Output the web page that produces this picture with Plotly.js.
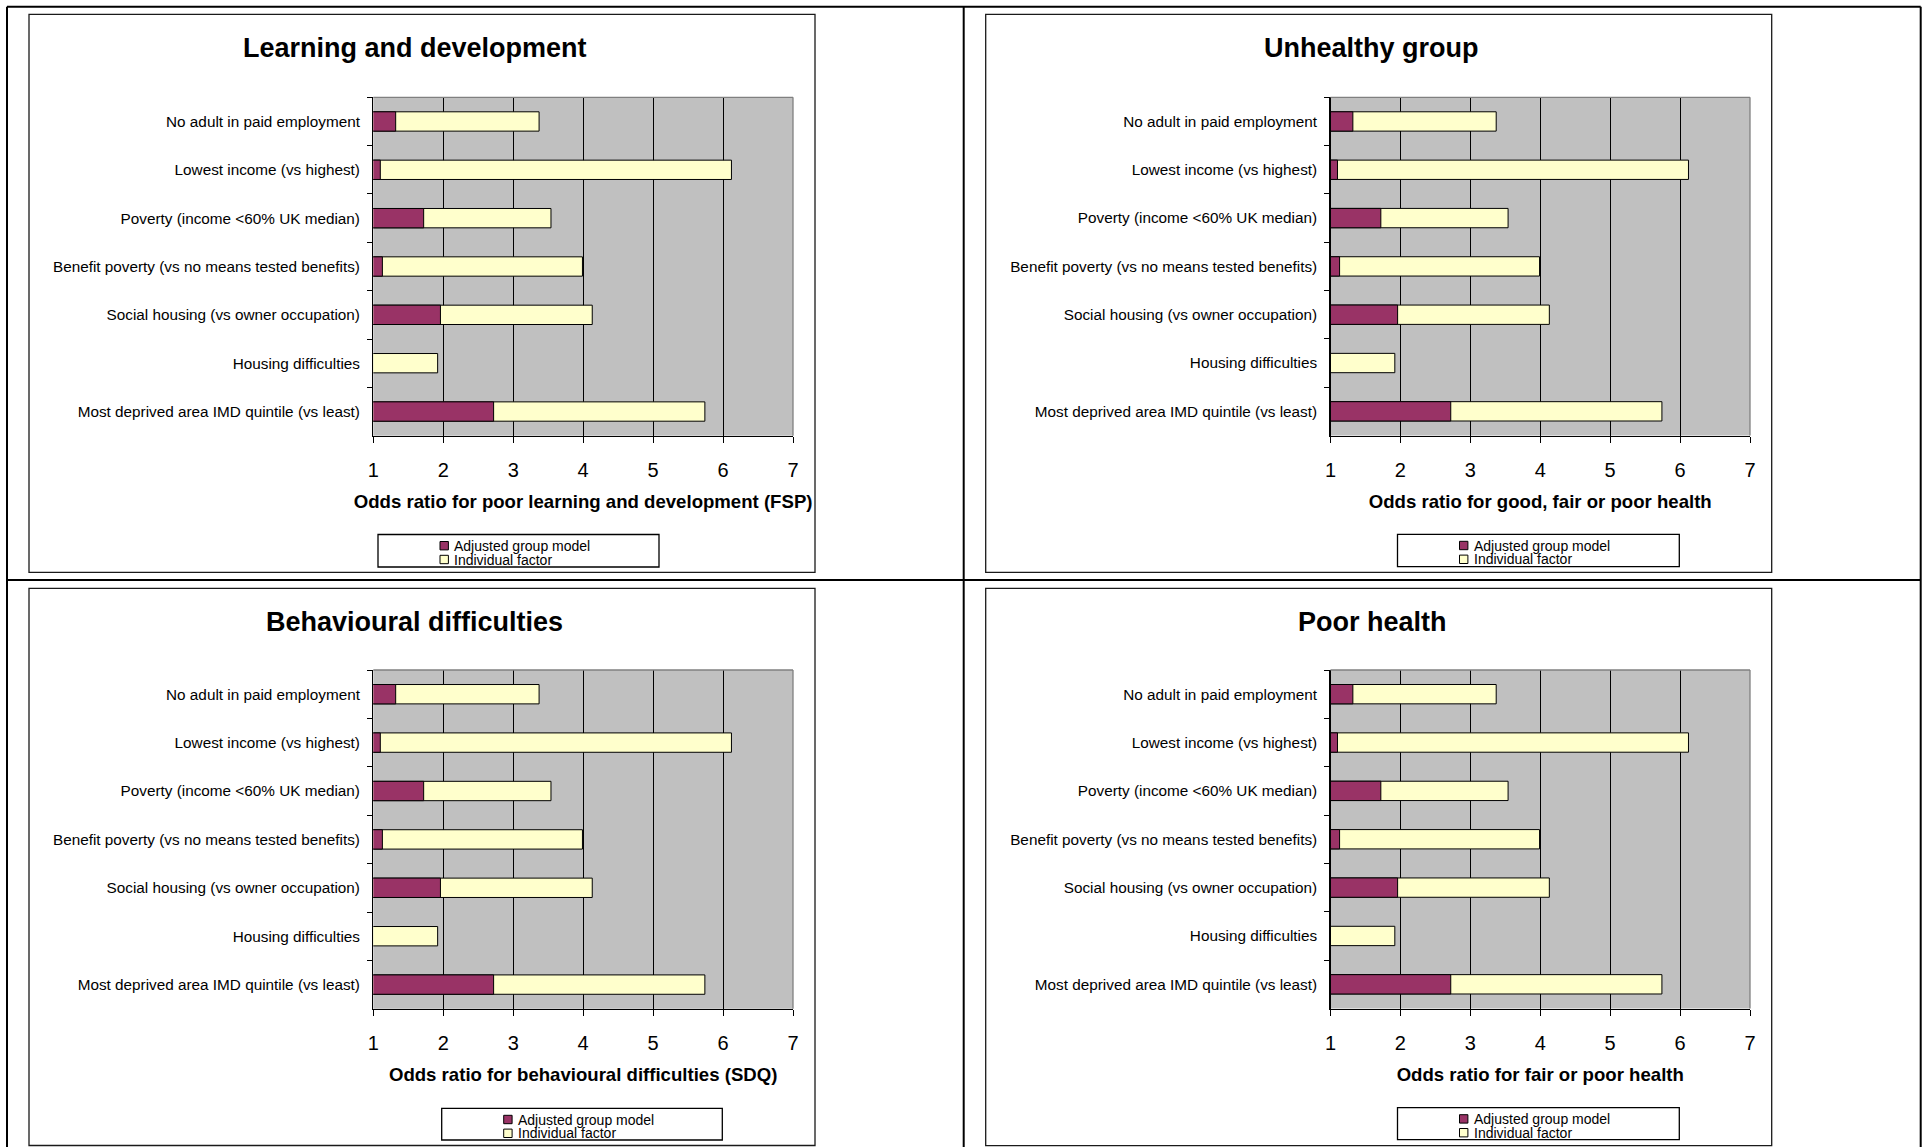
<!DOCTYPE html>
<html>
<head>
<meta charset="utf-8">
<script src="https://cdn.plot.ly/plotly-3.0.1.min.js"></script>
<style>
  html, body { margin: 0; padding: 0; background: #ffffff; }
  #chart { width: 1929px; height: 1147px; }
</style>
</head>
<body>
<div id="chart"></div>
<script>
// Risk factors, listed top to bottom
const factors = [
  'No adult in paid employment',
  'Lowest income (vs highest)',
  'Poverty (income &lt;60% UK median)',
  'Benefit poverty (vs no means tested benefits)',
  'Social housing (vs owner occupation)',
  'Housing difficulties',
  'Most deprived area IMD quintile (vs least)'
];

// Odds ratios for each factor
const adjustedGroupModel = [1.32, 1.10, 1.72, 1.13, 1.96, null, 2.72];
const individualFactor   = [3.37, 6.12, 3.54, 3.99, 4.13, 1.92, 5.74];

const seriesNames = ['Adjusted group model', 'Individual factor'];
const panelTitles = ['Learning and development', 'Unhealthy group', 'Behavioural difficulties', 'Poor health'];
const axisTitles = [
  'Odds ratio for poor learning and development (FSP)',
  'Odds ratio for good, fair or poor health',
  'Odds ratio for behavioural difficulties (SDQ)',
  'Odds ratio for fair or poor health'
];
const oddsTicks = [1, 2, 3, 4, 5, 6, 7];

// Colours
const ADJ_COLOR = '#993366';
const IND_COLOR = '#FFFFCC';
const PLOT_BG = '#C0C0C0';
const FONT = 'Liberation Sans, Arial, Helvetica, sans-serif';

// Page geometry in pixels
const W = 1929, H = 1147;
const px = v => v / W;
const py = v => 1 - v / H;

const panels = [
  { box: [29, 14.3, 815, 572.3],      plot: [373.3, 97.3, 793, 435.7],  titleX: 414.5, legend: [378, 534.5, 659, 567] },
  { box: [985.7, 14.3, 1771.7, 572.3], plot: [1330.5, 97.3, 1750, 435.5], titleX: 1371,  legend: [1397.5, 534.3, 1679.3, 566.7] },
  { box: [29, 588.3, 815, 1145.5],    plot: [373.3, 670, 793, 1008.8],  titleX: 414.5, legend: [441.7, 1108.3, 722.3, 1140] },
  { box: [985.7, 588.3, 1771.7, 1145.7], plot: [1330.5, 670, 1750, 1008.5], titleX: 1372, legend: [1397.5, 1107.7, 1679.3, 1139.7] }
];

const traces = [];
const layout = {
  width: W,
  height: H,
  margin: { l: 0, r: 0, t: 0, b: 0 },
  paper_bgcolor: '#ffffff',
  plot_bgcolor: PLOT_BG,
  barmode: 'overlay',
  bargap: 0.6,
  showlegend: false,
  font: { family: FONT, color: '#000000' },
  shapes: [],
  annotations: []
};

// Outer table rules
const outer = { type: 'line', xref: 'paper', yref: 'paper', line: { color: '#000000', width: 2 } };
layout.shapes.push(
  Object.assign({}, outer, { x0: px(7), x1: px(1920.7), y0: py(6.7), y1: py(6.7) }),
  Object.assign({}, outer, { x0: px(7), x1: px(7), y0: py(6.7), y1: py(1147) }),
  Object.assign({}, outer, { x0: px(1920.7), x1: px(1920.7), y0: py(6.7), y1: py(1147) }),
  Object.assign({}, outer, { x0: px(963.7), x1: px(963.7), y0: py(6.7), y1: py(1147) }),
  Object.assign({}, outer, { x0: px(7), x1: px(1920.7), y0: py(580), y1: py(580) })
);

panels.forEach((p, i) => {
  const s = i === 0 ? '' : String(i + 1);
  const xa = 'x' + s, ya = 'y' + s;

  traces.push({
    type: 'bar', orientation: 'h', name: seriesNames[1],
    y: factors, x: individualFactor, xaxis: xa, yaxis: ya,
    marker: { color: IND_COLOR, line: { color: '#000000', width: 1 } },
    hoverinfo: 'skip'
  });
  traces.push({
    type: 'bar', orientation: 'h', name: seriesNames[0],
    y: factors, x: adjustedGroupModel, xaxis: xa, yaxis: ya,
    marker: { color: ADJ_COLOR, line: { color: '#000000', width: 1 } },
    hoverinfo: 'skip'
  });

  layout['xaxis' + s] = {
    domain: [px(p.plot[0]), px(p.plot[2])],
    anchor: ya,
    range: [1, 7],
    tickmode: 'array',
    tickvals: oddsTicks,
    ticktext: oddsTicks.map(String),
    ticks: 'outside', ticklen: 6, tickwidth: 1, tickcolor: '#000000',
    showline: true, linecolor: '#000000', linewidth: 1.3,
    showgrid: true, gridcolor: '#000000', gridwidth: 1,
    zeroline: false,
    tickfont: { family: FONT, size: 20, color: '#000000' },
    ticklabelstandoff: 10,
    title: { text: axisTitles[i], font: { family: FONT, size: 18.6, weight: 700, color: '#000000' }, standoff: 15 },
    fixedrange: true
  };
  layout['yaxis' + s] = {
    domain: [py(p.plot[3]), py(p.plot[1])],
    anchor: xa,
    type: 'category',
    categoryorder: 'array',
    categoryarray: factors,
    autorange: 'reversed',
    tickson: 'boundaries',
    ticks: 'outside', ticklen: 5, tickwidth: 1, tickcolor: '#000000',
    showline: true, linecolor: '#000000', linewidth: 1.3,
    showgrid: false, zeroline: false,
    tickfont: { family: FONT, size: 15.3, color: '#000000' },
    ticklabelstandoff: 9,
    fixedrange: true
  };

  // Chart frame
  layout.shapes.push({
    type: 'rect', xref: 'paper', yref: 'paper', layer: 'below',
    x0: px(p.box[0]), x1: px(p.box[2]), y0: py(p.box[1]), y1: py(p.box[3]),
    line: { color: '#1a1a1a', width: 1.3 }, fillcolor: 'rgba(0,0,0,0)'
  });
  // Grey plot-area border along the top and right
  layout.shapes.push(
    { type: 'line', xref: xa + ' domain', yref: ya + ' domain', layer: 'above',
      x0: 0, x1: 1, y0: 1, y1: 1, line: { color: '#808080', width: 1.3 } },
    { type: 'line', xref: xa + ' domain', yref: ya + ' domain', layer: 'above',
      x0: 1, x1: 1, y0: 0, y1: 1, line: { color: '#808080', width: 1.3 } }
  );

  // Panel title
  layout.annotations.push({
    xref: 'paper', yref: 'paper', x: px(p.titleX), y: py(p.box[1] + 34),
    xanchor: 'center', yanchor: 'middle', showarrow: false,
    text: panelTitles[i],
    font: { family: FONT, size: 27, weight: 700, color: '#000000' }
  });

  // Key box with the two series
  const [lx0, ly0, lx1, ly1] = p.legend;
  layout.shapes.push({
    type: 'rect', xref: 'paper', yref: 'paper', layer: 'above',
    x0: px(lx0), x1: px(lx1), y0: py(ly0), y1: py(ly1),
    line: { color: '#000000', width: 1.3 }, fillcolor: '#ffffff'
  });
  const keyColors = [ADJ_COLOR, IND_COLOR];
  const rowCenters = [11.2, 25];
  rowCenters.forEach((rc, k) => {
    layout.shapes.push({
      type: 'rect', xref: 'paper', yref: 'paper', layer: 'above',
      x0: px(lx0 + 62), x1: px(lx0 + 70.4), y0: py(ly0 + rc - 4.2), y1: py(ly0 + rc + 4.2),
      line: { color: '#000000', width: 1 }, fillcolor: keyColors[k]
    });
    layout.annotations.push({
      xref: 'paper', yref: 'paper', x: px(lx0 + 74), y: py(ly0 + rc),
      xanchor: 'left', yanchor: 'middle', showarrow: false,
      text: seriesNames[k],
      font: { family: FONT, size: 14, color: '#000000' }
    });
  });
});

Plotly.newPlot('chart', traces, layout, { staticPlot: true, displayModeBar: false });
</script>
</body>
</html>
